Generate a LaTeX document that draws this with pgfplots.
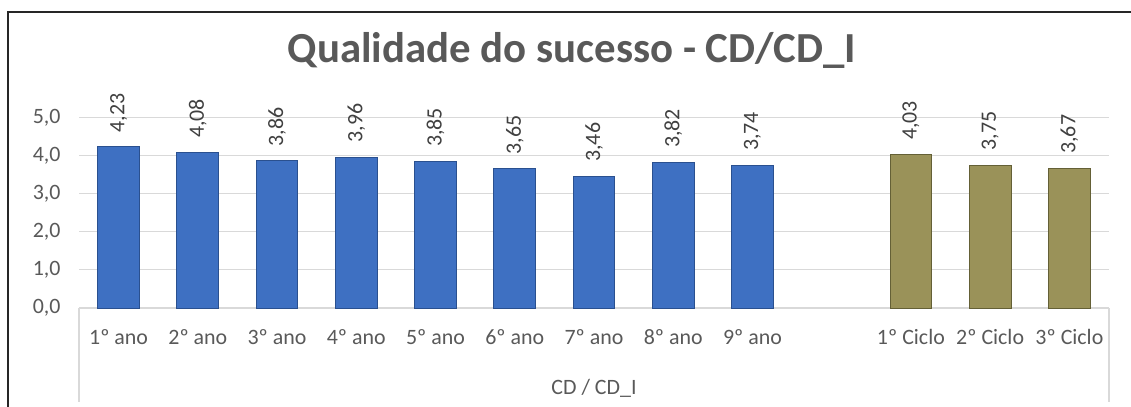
\documentclass[border=0pt]{standalone}
\usepackage{pgfplots}
\pgfplotsset{compat=1.18}
\usepackage{fontspec}
\setmainfont{Carlito}
\definecolor{txt}{HTML}{595959}
\definecolor{lbl}{HTML}{404040}
\definecolor{grd}{HTML}{D9D9D9}
\definecolor{blueM}{HTML}{3E70C2}
\definecolor{blueE}{HTML}{2A508F}
\definecolor{oliveM}{HTML}{9A9259}
\definecolor{oliveE}{HTML}{646036}
\pgfplotstableread{
x y
0 4.23
1 4.08
2 3.86
3 3.96
4 3.85
5 3.65
6 3.46
7 3.82
8 3.74
}\anos
\pgfplotstableread{
x y
10 4.03
11 3.75
12 3.67
}\ciclos
\begin{document}
\begin{tikzpicture}
\useasboundingbox (0,0) rectangle (1131bp,407bp);
\draw[line width=2bp, black!85] (8bp,-5bp) -- (8bp,395bp) -- (1140bp,395bp);
\node[font=\fontsize{43}{48}\selectfont\bfseries, text=txt] at (572bp,357bp) {Qualidade do sucesso - CD/CD\_I};
\begin{axis}[
  at={(79bp,99bp)}, anchor=south west,
  scale only axis, width=1030bp, height=190.6bp,
  xmin=-0.5, xmax=12.5, ymin=0, ymax=5,
  clip=false,
  axis line style={draw=none},
  major tick length=0pt,
  ytick={0,1,2,3,4,5},
  ymajorgrids, grid style={draw=grd, line width=1.2bp},
  yticklabel={\pgfmathprintnumber[fixed,fixed zerofill,precision=1,use comma,assume math mode=true]{\tick}},
  yticklabel style={font=\fontsize{22}{26}\selectfont, text=txt, xshift=-15bp},
  xtick={0,1,2,3,4,5,6,7,8,10,11,12},
  xticklabels={1º ano,2º ano,3º ano,4º ano,5º ano,6º ano,7º ano,8º ano,9º ano,1º Ciclo,2º Ciclo,3º Ciclo},
  xticklabel style={font=\fontsize{22}{26}\selectfont, text=txt, anchor=north, yshift=-18bp},
  nodes near coords={\pgfmathprintnumber[fixed,fixed zerofill,precision=2,use comma,assume math mode=true]{\pgfplotspointmeta}},
  nodes near coords style={font=\fontsize{22}{26}\selectfont, text=lbl, rotate=90, anchor=west, inner xsep=14bp, inner ysep=0pt},
]
\addplot[ybar, bar width=41.7bp, bar shift=0pt, draw=blueE, line width=1bp, fill=blueM] table[x=x,y=y] {\anos};
\addplot[ybar, bar width=41.7bp, bar shift=0pt, draw=oliveE, line width=1bp, fill=oliveM] table[x=x,y=y] {\ciclos};
\draw[grd, line width=1.5bp] (axis cs:-0.5,0) -- ++(0pt,-94bp);
\draw[grd, line width=1.5bp] (axis cs:12.5,0) -- ++(0pt,-94bp);
\node[font=\fontsize{22}{26}\selectfont, text=txt] at ([yshift=-80bp]axis cs:6,0) {CD / CD\_I};
\end{axis}
\end{tikzpicture}
\end{document}
